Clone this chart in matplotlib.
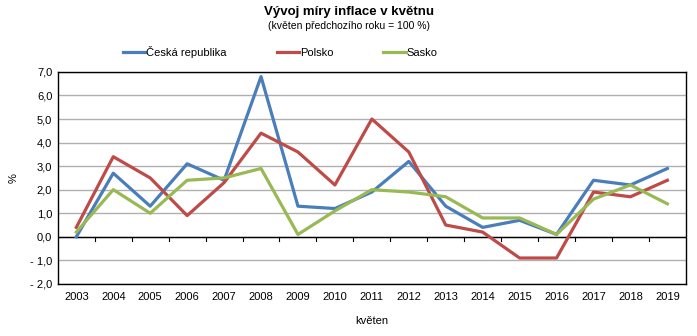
import numpy as np
import matplotlib
matplotlib.use('Agg')
import matplotlib.pyplot as plt
from matplotlib.ticker import FuncFormatter

plt.rcParams['font.family'] = ['Liberation Sans', 'DejaVu Sans']

years = [str(y) for y in range(2003, 2020)]
cz = [0.0, 2.7, 1.3, 3.1, 2.4, 6.8, 1.3, 1.2, 1.9, 3.2, 1.3, 0.4, 0.7, 0.1, 2.4, 2.2, 2.9]
pl = [0.4, 3.4, 2.5, 0.9, 2.3, 4.4, 3.6, 2.2, 5.0, 3.6, 0.5, 0.2, -0.9, -0.9, 1.9, 1.7, 2.4]
sasko = [0.2, 2.0, 1.0, 2.4, 2.5, 2.9, 0.1, 1.1, 2.0, 1.9, 1.7, 0.8, 0.8, 0.1, 1.6, 2.2, 1.4]

fig = plt.figure(figsize=(6.97, 3.36), dpi=100)
ax = fig.add_axes([0.083, 0.155, 0.901, 0.631])

x = np.arange(len(years))
ax.plot(x, cz, color='#4A7EBB', lw=2.3, label='Česká republika')
ax.plot(x, pl, color='#BE4B48', lw=2.3, label='Polsko')
ax.plot(x, sasko, color='#98B954', lw=2.3, label='Sasko')

ax.set_xlim(-0.5, len(years) - 0.5)
ax.set_ylim(-2, 7)
ax.set_yticks(np.arange(-2, 8, 1))
ax.yaxis.set_major_formatter(FuncFormatter(
    lambda v, p: ('- ' if v < 0 else '') + f'{abs(v):.1f}'.replace('.', ',')))
ax.grid(axis='y', color='#B0B0B0', lw=1)
ax.set_axisbelow(True)
ax.axhline(0, color='black', lw=1, zorder=1.5)

# category labels at bottom, tick marks on the zero line
ax.set_xticks(x)
ax.set_xticklabels(years)
ax.tick_params(axis='x', length=0, labelsize=8, pad=6)
ax.tick_params(axis='y', length=0, labelsize=8, pad=4)
for b in np.arange(-0.5, len(years), 1)[1:-1]:
    ax.plot([b, b], [0, -0.18], color='black', lw=0.8, zorder=1.5)

for s in ax.spines.values():
    s.set_color('black')
    s.set_linewidth(1)

ax.set_ylabel('%', fontsize=8, labelpad=8)
ax.set_xlabel('květen', fontsize=8, labelpad=10)

fig.text(0.5, 0.955, 'Vývoj míry inflace v květnu', ha='center', fontsize=9.5, fontweight='bold')
fig.text(0.5, 0.915, '(květen předchozího roku = 100 %)', ha='center', fontsize=7.5)

handles, labels = ax.get_legend_handles_labels()
fig.legend(handles, labels, loc='center', bbox_to_anchor=(0.402, 0.845), ncol=3, frameon=False,
           fontsize=8, handlelength=2.0, handletextpad=0.1, columnspacing=4.5)

fig.savefig('out.png', dpi=100)
